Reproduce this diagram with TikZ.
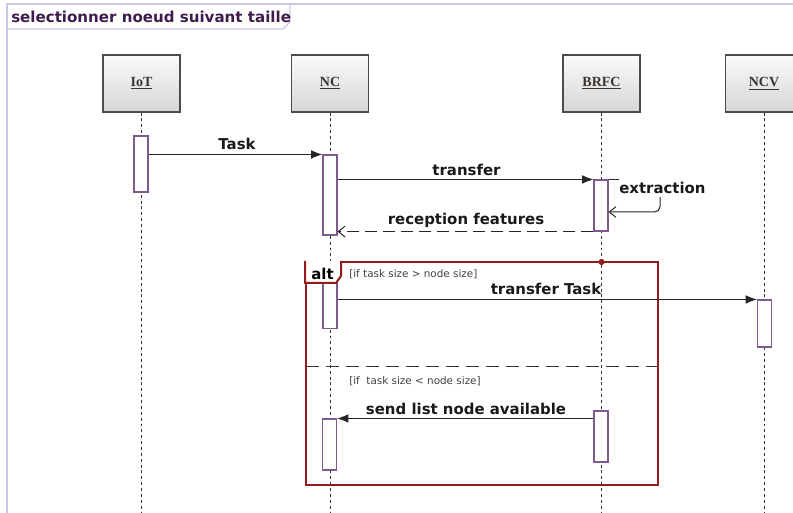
\documentclass[tikz,border=0pt]{standalone}
\usepackage{fontspec}
\usetikzlibrary{arrows.meta}
\newfontfamily\dvs{DejaVu Sans}
\newfontfamily\lsr{Liberation Serif}
\definecolor{actc}{HTML}{7E5A8E}
\definecolor{altc}{HTML}{931B1B}
\definecolor{framec}{HTML}{C8C8E6}
\definecolor{titlec}{HTML}{3F1C4C}
\definecolor{headtxt}{HTML}{3A3530}
\tikzset{
  head/.style={draw=gray!60!black, line width=0.9pt, top color=gray!4, bottom color=gray!32,
    minimum width=57.75pt, minimum height=42.75pt, inner sep=0pt,
    font=\lsr\bfseries\fontsize{10.5}{12}\selectfont, text=headtxt},
  act/.style={draw=actc, fill=white, line width=0.8pt, minimum width=10.5pt, inner sep=0pt},
  life/.style={draw=black!80, line width=0.7pt, dash pattern=on 2.2pt off 2.2pt},
  msg/.style={draw=black!85, line width=0.75pt, -{Latex[length=8.5pt,width=6.5pt]}},
  ret/.style={draw=black!85, line width=0.75pt, -{Straight Barb[length=5pt,width=8pt]}},
  mlabel/.style={font=\dvs\bfseries\fontsize{11.2}{13}\selectfont, text=black!90, inner sep=0pt},
  guard/.style={font=\dvs\fontsize{7.8}{9}\selectfont, text=black!75, inner sep=0pt, anchor=west},
}
\begin{document}
\begin{tikzpicture}[x=0.75pt, y=-0.75pt]
\useasboundingbox (0,0) rectangle (793,513);
% outer frame
\draw[framec, line width=0.8pt] (793,4) -- (7,4) -- (7,513);
\draw[framec, line width=0.8pt] (7,29) -- (283,29) -- (290,22) -- (290,4);
\node[anchor=west, inner sep=0pt, font=\dvs\bfseries\fontsize{11.3}{13}\selectfont, text=titlec] (title) at (11,17) {selectionner noeud suivant taille};

% lifeline heads
\node[head] (iot) at (141.5,83.5) {\underline{IoT}};
\node[head] (nc) at (330,83.5) {\underline{NC}};
\node[head] (brfc) at (601.5,83.5) {\underline{BRFC}};
\node[head] (ncv) at (764,83.5) {\underline{NCV}};

% lifelines
\draw[life] (iot.south) -- (iot.south |- 0,513);
\draw[life] (nc.south) -- (nc.south |- 0,513);
\draw[life] (brfc.south) -- (brfc.south |- 0,513);
\draw[life] (ncv.south) -- (ncv.south |- 0,513);

% alt frame
\node[draw=altc, line width=1.5pt, minimum width=264pt, minimum height=167.25pt, inner sep=0pt] (alt) at (482,373.5) {};
\coordinate (sepL) at (306,367);
\coordinate (sepR) at (658,367);
\draw[black!80, line width=0.75pt, dash pattern=on 10pt off 5pt] (sepL) -- (sepR);
\fill[altc] (601.5,262) circle (2.3pt);

% activations
\node[act, minimum height=42pt] (ioA) at (141,164) {};
\node[act, minimum height=60pt] (ncA) at (330,195) {};
\node[act, minimum height=38.25pt] (brA) at (601,205.5) {};
\node[act, minimum height=45pt] (nc2) at (330,298.5) {};
\node[act, minimum height=35.25pt] (ncvA) at (764.5,323.5) {};
\node[act, minimum height=38.25pt] (br2) at (601,436.5) {};
\node[act, minimum height=38.25pt] (nc3) at (329.5,444.5) {};

% alt tab
\draw[altc, line width=1.5pt, fill=white] (alt.north west) -- ++(0,22) -- ++(31,0) -- ++(5,-7) -- ++(0,-15);
\node[font=\dvs\bfseries\fontsize{11.2}{13}\selectfont, inner sep=0pt] (altlbl) at (322.5,273.5) {alt};
\node[guard] (g1) at (349,274.5) {[if task size > node size]};
\node[guard] (g2) at (349,381.5) {[if\ \ task size < node size]};

% messages
\draw[msg] (ioA.east |- ncA.north) -- (ncA.north west);
\node[mlabel] (l1) at (237,143.5) {Task};
\draw[msg] (ncA.east |- brA.north) -- (brA.north west);
\node[mlabel] (l2) at (466.5,169.5) {transfer};
\draw[black!85, line width=0.75pt] (brA.north east) -- ++(10,0);
\node[mlabel, anchor=west] (l3) at (619,187.5) {extraction};
\coordinate (exA) at (660,197);
\coordinate (exB) at (608.5,212);
\draw[ret, rounded corners=4pt] (exA) -- (exA |- exB) -- (exB);
\draw[ret, dash pattern=on 9pt off 4.5pt] (brA.south west) -- (ncA.east |- brA.south);
\node[mlabel] (l4) at (466,220) {reception features};
\draw[msg] (nc2.east |- ncvA.north) -- (ncvA.north west);
\node[mlabel, anchor=east] (l5) at (601.5,289) {transfer Task};
\draw[msg] (br2.west |- nc3.north) -- (nc3.north east);
\node[mlabel] (l6) at (466,408.5) {send list node available};
\end{tikzpicture}
\end{document}
